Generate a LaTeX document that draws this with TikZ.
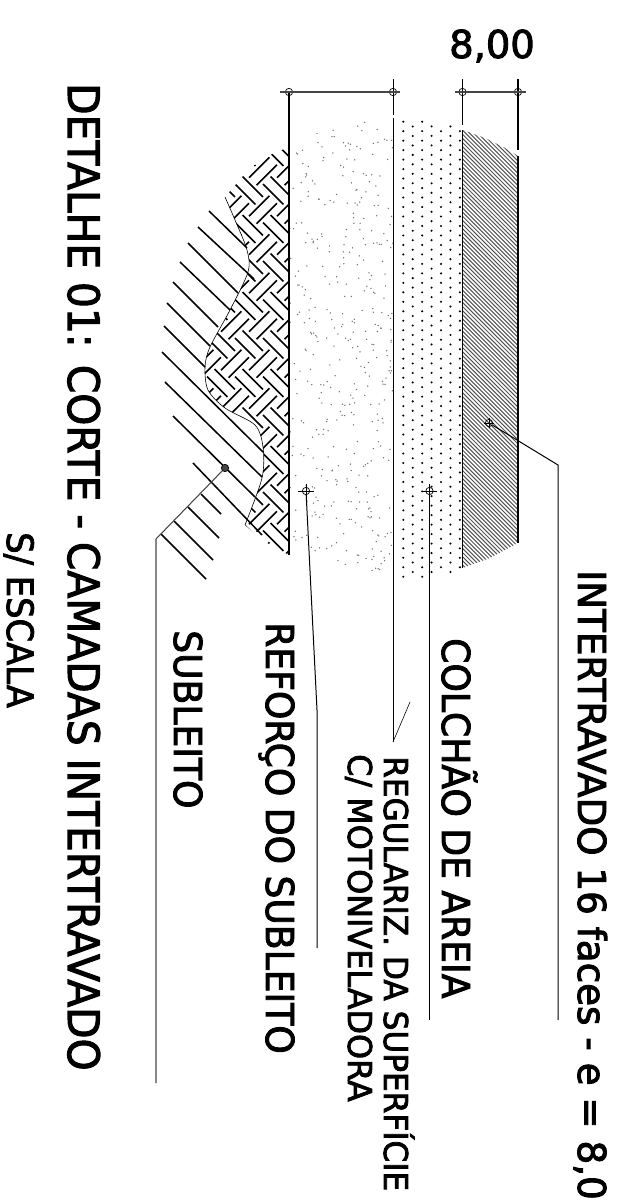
\documentclass[tikz,border=0pt]{standalone}
\usepackage{fontspec}
\setmainfont{DejaVu Sans}[FakeBold=2.4]
\usepackage{graphicx}
\usepackage{xcolor}
\usepackage{tikz}
\usetikzlibrary{positioning, calc}
\definecolor{mygray}{RGB}{70, 70, 70}
\definecolor{mystripe}{RGB}{85, 85, 85}
\definecolor{mysand}{RGB}{110, 110, 110}
\tikzset{
    lbl/.style={rotate=-90, anchor=base west, inner sep=0pt, text=black},
    ringmk/.style={circle, draw=black, line width=0.6pt, minimum size=0.22cm, inner sep=0pt},
    wallln/.style={draw=black, line width=1.2pt},
    leaderln/.style={draw=black, line width=0.85pt},
    dimln/.style={draw=mygray, line width=1pt}
}
\begin{document}
\begin{tikzpicture}[x=0.03cm, y=-0.03cm]
    \useasboundingbox (0,0) rectangle (624,1204);

    % intertravado
    \begin{scope}
        \clip (462.5,130) -- (485,138) -- (505,148) -- (518,156) -- (518,543) -- (490,558) -- (462.5,568) -- cycle;
        \foreach \i in {0,...,240} {
            \draw[mystripe, line width=0.85pt] (\i*4.1-400,100) -- ++(500,500);
        }
    \end{scope}

    % colchao de areia
    \begin{scope}
        \clip (393,119) -- (426,119) -- (426,124) -- (462,124) -- (462,574) -- (426,574) -- (426,579) -- (393,579) -- cycle;
        \foreach \i in {0,...,6} {
            \pgfmathsetmacro\dotx{403.3+9.43*\i}
            \pgfmathsetmacro\doty{121.7+4.74*mod(\i,2)}
            \foreach \j in {0,...,48} {
                \fill[black] (\dotx,\doty+9.48*\j) circle (1.15);
            }
        }
    \end{scope}

    % reforco
    \begin{scope}
        \clip (289,150) -- (300,138) -- (328,130) -- (358,121) -- (393,118) -- (393,572) -- (358,570) -- (332,572) -- (300,555) -- (289,545) -- cycle;
        \pgfmathsetseed{417}
        \foreach \i in {1,...,430} {
            \pgfmathsetmacro\dotx{289+104*rnd}
            \pgfmathsetmacro\doty{118+460*rnd}
            \fill[mysand] (\dotx,\doty) circle (0.75);
        }
    \end{scope}

    % trama
    \begin{scope}
        \clip (289,147) -- (270,155) -- (250,168) -- (225,197) -- plot[smooth] coordinates {(225,197) (235,220) (247,250) (248,272) (230,310) (210,347) (205,367) (208,390) (225,408) (255,425) (263,447) (262,478) (245,525)} -- (262,540) -- (289,555) -- cycle;
        \foreach \m in {-3,...,2} {
            \foreach \n in {-5,...,7} {
                \draw[black, line width=1.4pt] (249+28*\m,306+38.5*\n) ++(3.75,-3.75) ++(-10.2,-10.2) -- ++(20.4,20.4);
                \draw[black, line width=1.4pt] (249+28*\m,306+38.5*\n) ++(-3.75,3.75) ++(-10.2,-10.2) -- ++(20.4,20.4);
                \draw[black, line width=1.4pt] (263+28*\m,325.25+38.5*\n) ++(3.75,3.75) ++(-10.2,10.2) -- ++(20.4,-20.4);
                \draw[black, line width=1.4pt] (263+28*\m,325.25+38.5*\n) ++(-3.75,-3.75) ++(-10.2,10.2) -- ++(20.4,-20.4);
            }
        }
    \end{scope}

    \draw[black, line width=0.5pt] plot[smooth] coordinates {(225,197) (235,220) (247,250) (248,272) (230,310) (210,347) (205,367) (208,390) (225,408) (255,425) (263,447) (262,478) (245,525)};

    % subleito
    \foreach \ax/\ay/\bx/\by in {209/211/247/248, 198/227/254/279, 188/243/238/293, 180/262/230/310, 173/282/218/327, 167/303/210/346, 164/326/205/367, 162/352/263/452, 165/382/262/477, 173/416/255/497, 193/463/262/535, 201/494/221/514, 188/507/219/538, 174/521/213/560, 161/534/206/579} {
        \draw[black, line width=1.3pt] (\ax,\ay) -- (\bx,\by);
    }

    % paredes
    \draw[wallln] (289,92) -- (289,555);
    \draw[black, line width=0.8pt] (393,79) -- (393,115) (393,118) -- (393,742);
    \draw[wallln] (462.5,79) -- (462.5,125) (462.5,130) -- (462.5,568);
    \draw[wallln] (518,79) -- (518,150) (518,156) -- (518,543);

    % cotas
    \node[ringmk] (cotaA) at (289,92) {};
    \node[ringmk] (cotaB) at (393,92) {};
    \node[ringmk] (cotaC) at (462.5,92) {};
    \node[ringmk] (cotaD) at (518,92) {};
    \coordinate (cotaAx) at (280,92);
    \coordinate (cotaBx) at (400,92);
    \coordinate (cotaCx) at (455,92);
    \coordinate (cotaDx) at (526,92);
    \draw[dimln] (cotaAx) -- (cotaBx);
    \draw[dimln] (cotaCx) -- (cotaDx);

    % chamadas
    \node[ringmk] (mkInter) at (489,423) {};
    \node[ringmk] (mkAreia) at (429.5,491) {};
    \node[ringmk] (mkReforco) at (306,491) {};
    \node[ringmk, fill=mygray] (mkSub) at (225,468) {};
    \draw[black, line width=0.5pt] (mkInter.center) ++(-5,0) -- ++(10,0) ++(-5,-5) -- ++(0,10);
    \draw[black, line width=0.6pt] (429.5,484) -- (429.5,498) (422,491) -- (437,491);
    \draw[black, line width=0.6pt] (306,484) -- (306,498) (298,491) -- (314,491);

    \coordinate (kInter) at (558,465);
    \coordinate (eInter) at (558,1020);
    \coordinate (eAreia) at (429.5,1020);
    \coordinate (kReforco) at (317,710);
    \coordinate (eReforco) at (317,948);
    \coordinate (kSub) at (156,539);
    \coordinate (eSub) at (156,1083);
    \coordinate (hookTop) at (410,702);
    \coordinate (hookEnd) at (393,742);
    \draw[leaderln] (mkInter) -- (kInter) -- (eInter);
    \draw[leaderln] (mkAreia) -- (eAreia);
    \draw[leaderln] (mkReforco) -- (kReforco) -- (eReforco);
    \draw[draw=mygray, line width=0.9pt] (mkSub) -- (kSub) -- (eSub);
    \draw[leaderln, line width=0.5pt] (hookEnd) -- (hookTop);

    % textos
    \node[font=\fontsize{32.8}{36}\selectfont, anchor=base west, inner sep=0pt] (cotaTxt) at (449,58) {8,00};
    \node[lbl, font=\fontsize{32.8}{36}\selectfont] (txtInter) at (578,570) {\scalebox{0.97}[1]{INTERTRAVADO 16 faces - e = 8,0}};
    \node[lbl, font=\fontsize{32.8}{36}\selectfont] (txtAreia) at (442,638) {\scalebox{0.94}[1]{COLCHÃO DE AREIA}};
    \node[lbl, font=\fontsize{28}{30}\selectfont] (txtRegA) at (384,756) {\scalebox{0.95}[1]{REGULARIZ. DA SUPERFÍCIE}};
    \node[lbl, font=\fontsize{28}{30}\selectfont] (txtRegB) at (348,754) {\scalebox{0.97}[1]{C/ MOTONIVELADORA}};
    \node[lbl, font=\fontsize{32.8}{36}\selectfont] (txtReforco) at (266,622) {\scalebox{0.94}[1]{REFORÇO DO SUBLEITO}};
    \node[lbl, font=\fontsize{32.8}{36}\selectfont] (txtSub) at (174,630) {\scalebox{0.94}[1]{SUBLEITO}};
    \node[lbl, font=\fontsize{37}{40}\selectfont] (txtTitulo) at (68,83) {\scalebox{0.94}[1]{DETALHE 01: CORTE - CAMADAS INTERTRAVADO}};
    \node[lbl, font=\fontsize{31}{34}\selectfont] (txtEscala) at (7,532) {\scalebox{0.93}[1]{S/ ESCALA}};
\end{tikzpicture}
\end{document}
